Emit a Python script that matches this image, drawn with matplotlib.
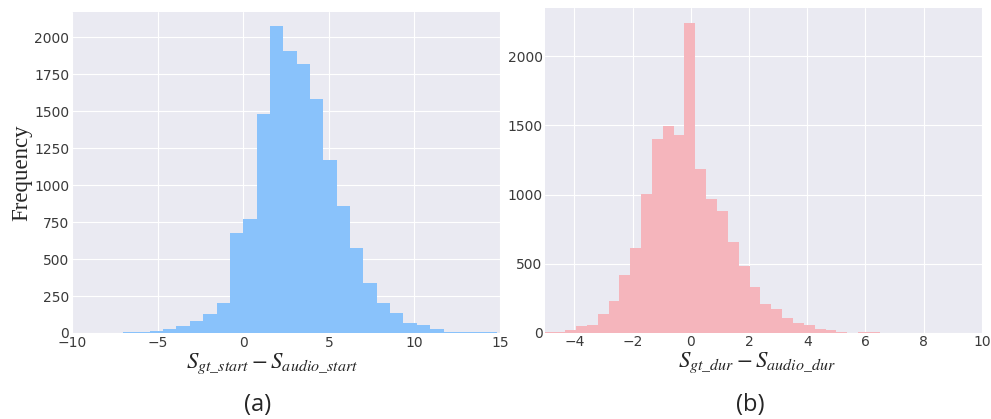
import matplotlib
matplotlib.use("Agg")
import matplotlib.pyplot as plt
import numpy as np

# (a) start offset histogram, bin width ~0.78
start_edges = np.round(np.arange(-9, 20) * 0.78, 3)
start_counts = [5, 10, 12, 30, 45, 80, 125, 200, 677, 772, 1480, 2074, 1907,
                1819, 1580, 1171, 860, 575, 341, 205, 133, 65, 52, 27, 10, 9, 4, 4]

# (b) duration offset histogram, bin width ~0.373
dur_edges = np.round(-0.218 + np.arange(-13, 19) * 0.373, 3)
dur_counts = [5, 5, 17, 48, 55, 138, 227, 418, 616, 1007, 1401, 1495, 1432,
              2244, 1188, 971, 884, 659, 481, 328, 208, 169, 104, 68, 53, 27,
              19, 7, 0, 4, 4]

plt.style.use("seaborn-v0_8-darkgrid")
plt.rcParams["font.family"] = ["DejaVu Sans"]
plt.rcParams["mathtext.fontset"] = "stix"
plt.rcParams["xtick.color"] = "#3a3a3a"
plt.rcParams["ytick.color"] = "#3a3a3a"

fig = plt.figure(figsize=(9.91, 4.19), dpi=100)
ax1 = fig.add_axes([0.0727, 0.2053, 0.4319, 0.766])
ax2 = fig.add_axes([0.5503, 0.206, 0.4404, 0.775])

ax1.hist(start_edges[:-1], bins=start_edges, weights=start_counts, color="#89c2fb")
ax1.set_xlim(-10, 15)
ax1.set_ylim(0, 2170)
ax1.set_yticks(np.arange(0, 2001, 250))
ax1.set_xticks([-10, -5, 0, 5, 10, 15])
ax1.set_xlabel(r"$S_{gt\_start}-S_{audio\_start}$", fontsize=16.5)
ax1.xaxis.set_label_coords(0.468, -0.057)
ax1.set_ylabel("Frequency", fontsize=16.5, family="Liberation Serif", labelpad=1.5)

ax2.hist(dur_edges[:-1], bins=dur_edges, weights=dur_counts, color="#f5b5bc")
ax2.set_xlim(-5, 10)
ax2.set_ylim(0, 2350)
ax2.set_yticks([0, 500, 1000, 1500, 2000])
ax2.set_xticks([-4, -2, 0, 2, 4, 6, 8, 10])
ax2.set_xlabel(r"$S_{gt\_dur}-S_{audio\_dur}$", fontsize=16.5)
ax2.xaxis.set_label_coords(0.485, -0.056)

for ax in (ax1, ax2):
    ax.tick_params(labelsize=10, pad=2)

fig.text(0.26, 0.033, "(a)", fontsize=17, family="Open Sans", ha="center", va="center")
fig.text(0.757, 0.033, "(b)", fontsize=17, family="Open Sans", ha="center", va="center")

fig.savefig("out.png", dpi=100)
